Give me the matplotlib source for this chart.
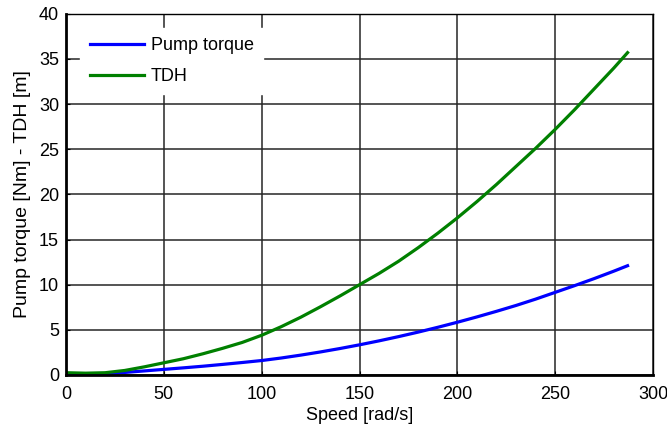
import numpy as np
from matplotlib import pyplot as plt

plt.rcParams['font.family'] = ['Liberation Sans', 'DejaVu Sans']

# speed [rad/s] and curves
speed = [0, 10, 20, 30, 40, 50, 60, 70, 80, 90, 100, 110, 120, 130, 140, 150,
         160, 170, 180, 190, 200, 210, 220, 230, 240, 250, 260, 270, 280, 287]
tdh = [0.25, 0.2, 0.25, 0.5, 0.9, 1.35, 1.8, 2.35, 2.95, 3.6, 4.4, 5.35,
       6.4, 7.55, 8.75, 10.0, 11.25, 12.6, 14.1, 15.7, 17.4, 19.2, 21.1, 23.1,
       25.1, 27.2, 29.4, 31.7, 34.0, 35.7]
torque = [0.0, 0.03, 0.12, 0.28, 0.45, 0.62, 0.79, 0.97, 1.17, 1.38, 1.6, 1.88,
          2.2, 2.55, 2.93, 3.34, 3.78, 4.25, 4.75, 5.28, 5.84, 6.43, 7.05, 7.7,
          8.4, 9.15, 9.9, 10.68, 11.5, 12.1]

xticks = [0, 50, 100, 150, 200, 250, 300]
yticks = [0, 5, 10, 15, 20, 25, 30, 35, 40]

fig = plt.figure(figsize=(6.67, 4.32), dpi=100)
ax = fig.add_axes([0.099, 0.132, 0.88, 0.836])

ax.plot(speed, torque, color='#0000ff', lw=2.3, label='Pump torque')
ax.plot(speed, tdh, color='#008000', lw=2.3, label='TDH')

ax.set_xlim(0, 300)
ax.set_ylim(0, 40)
ax.set_xticks(xticks)
ax.set_yticks(yticks)
ax.grid(True, color='#262626', lw=1.1, ls='-')
ax.tick_params(direction='in', labelsize=13, length=3, pad=5)
ax.tick_params(axis='x', pad=8)
for s in ax.spines.values():
    s.set_linewidth(1.0)
ax.spines['left'].set_linewidth(2.0)
ax.spines['bottom'].set_linewidth(2.0)

ax.set_xlabel('Speed [rad/s]', fontsize=13, labelpad=3)
ax.set_ylabel('Pump torque [Nm] - TDH [m]', fontsize=14, labelpad=6)

leg = ax.legend(loc='upper left', fontsize=13, frameon=True, fancybox=False,
                edgecolor='white', framealpha=1, handlelength=3.0,
                handletextpad=0.4, borderpad=0.5, borderaxespad=0.8,
                labelspacing=0.75)

fig.savefig('out.png', dpi=100)
